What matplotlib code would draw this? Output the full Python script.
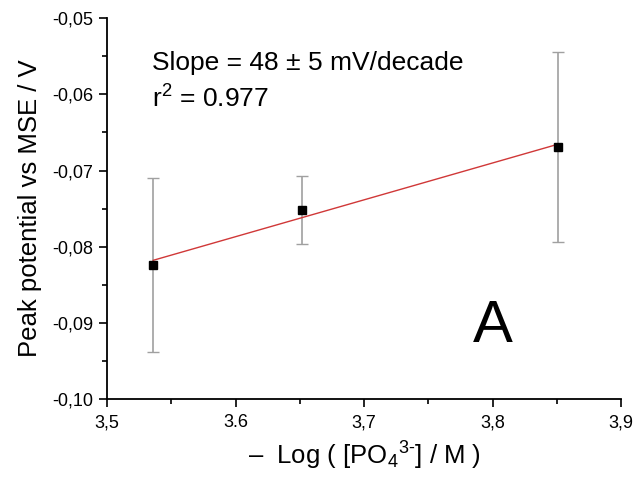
import numpy as np
import matplotlib.pyplot as plt
from matplotlib.ticker import FixedLocator, MultipleLocator

plt.rcParams['font.family'] = ['Liberation Sans', 'DejaVu Sans']
plt.rcParams['mathtext.fontset'] = 'custom'
plt.rcParams['mathtext.rm'] = 'Liberation Sans'
plt.rcParams['mathtext.it'] = 'Liberation Sans:italic'

# data
log_conc = [3.536, 3.652, 3.851]
peak_pot = [-0.0824, -0.0752, -0.0669]
peak_err = [0.0114, 0.0045, 0.0125]

xticks = [3.5, 3.6, 3.7, 3.8, 3.9]
xtick_labels = ["3,5", "3.6", "3,7", "3,8", "3,9"]
yticks = [-0.10, -0.09, -0.08, -0.07, -0.06, -0.05]
ytick_labels = ["-0,10", "-0,09", "-0,08", "-0,07", "-0,06", "-0,05"]

fig = plt.figure(figsize=(6.37, 4.79), dpi=100)
ax = fig.add_axes([0.168, 0.167, 0.807, 0.795])

ax.errorbar(log_conc, peak_pot, yerr=peak_err, fmt='none', ecolor='#a0a0a0',
            elinewidth=1.2, capsize=4, capthick=1.0, zorder=1)

slope, icpt = np.polyfit(log_conc, peak_pot, 1)
xf = np.array([log_conc[0], log_conc[-1]])
ax.plot(xf, slope * xf + icpt, color='#d03838', lw=1.0, zorder=2)
ax.plot(log_conc, peak_pot, 's', color='black', ms=6, zorder=3)

ax.set_xlim(3.5, 3.9)
ax.set_ylim(-0.10, -0.05)
ax.xaxis.set_major_locator(FixedLocator(xticks))
ax.set_xticklabels(xtick_labels)
ax.yaxis.set_major_locator(FixedLocator(yticks))
ax.set_yticklabels(ytick_labels)
ax.xaxis.set_minor_locator(MultipleLocator(0.05))
ax.yaxis.set_minor_locator(MultipleLocator(0.005))
ax.tick_params(which='major', direction='out', length=6, width=1.2, labelsize=13, pad=4)
ax.tick_params(axis='x', which='major', pad=5)
ax.tick_params(which='minor', direction='out', length=3.5, width=1.2)

for s in ['top', 'right']:
    ax.spines[s].set_visible(False)
for s in ['left', 'bottom']:
    ax.spines[s].set_linewidth(1.3)

ax.set_ylabel("Peak potential vs MSE / V", fontsize=18.5, labelpad=7)
ax.set_xlabel(r"–  Log ( [PO$\mathregular{_4{}^{3\text{-}}}$] / M )", fontsize=18.5, labelpad=6)

ax.text(0.087, 0.8635, "Slope = 48 ± 5 mV/decade", transform=ax.transAxes,
        fontsize=19, va='baseline')
ax.text(0.087, 0.764, r"r$\mathregular{^2}$ = 0.977", transform=ax.transAxes,
        fontsize=19, va='baseline')
ax.text(0.751, 0.15, "A", transform=ax.transAxes, fontsize=43, ha='center', va='baseline')

fig.savefig("out.png", dpi=100)
